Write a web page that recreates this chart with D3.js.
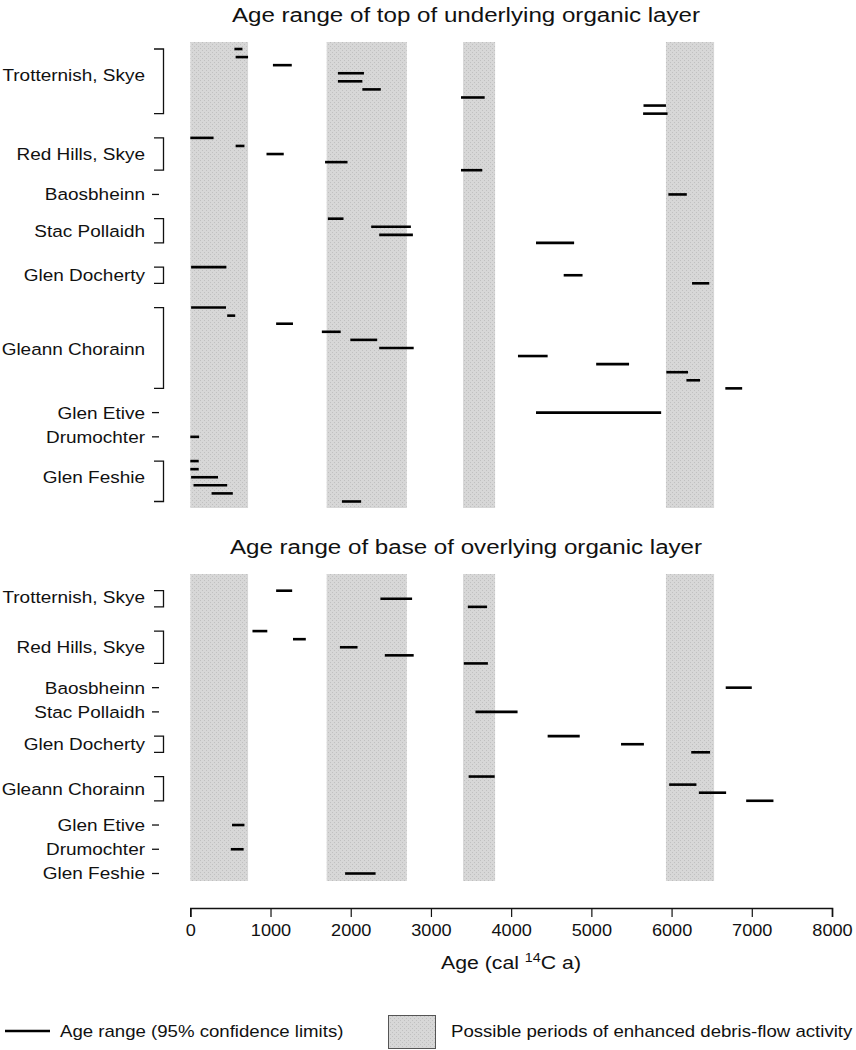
<!DOCTYPE html>
<html><head><meta charset="utf-8">
<script src="https://cdn.jsdelivr.net/npm/d3@7"></script>
<style>
body{margin:0;background:#fff}
text{font-family:"Liberation Sans",Arial,Helvetica,sans-serif;fill:#111}
</style>
</head><body>
<svg id="c" width="856" height="1050"></svg>
<script>
// ---------------- DATA ----------------
const sites = ["Trotternish, Skye", "Red Hills, Skye", "Baosbheinn", "Stac Pollaidh",
  "Glen Docherty", "Gleann Chorainn", "Glen Etive", "Drumochter", "Glen Feshie"];

// possible periods of enhanced debris-flow activity (cal 14C a)
const periods = [[0, 720], [1700, 2700], [3400, 3800], [5930, 6530]];

// age range of top of underlying organic layer: [site, from, to]
const topRanges = [
  ["Trotternish, Skye", 550, 650], ["Trotternish, Skye", 565, 720], ["Trotternish, Skye", 1030, 1265],
  ["Trotternish, Skye", 1840, 2165], ["Trotternish, Skye", 1840, 2145], ["Trotternish, Skye", 2145, 2375],
  ["Trotternish, Skye", 3375, 3670], ["Trotternish, Skye", 5650, 5930], ["Trotternish, Skye", 5645, 5950],
  ["Red Hills, Skye", 0, 290], ["Red Hills, Skye", 565, 675], ["Red Hills, Skye", 950, 1165],
  ["Red Hills, Skye", 1680, 1960], ["Red Hills, Skye", 3375, 3640],
  ["Baosbheinn", 5960, 6190],
  ["Stac Pollaidh", 1715, 1910], ["Stac Pollaidh", 2255, 2750], ["Stac Pollaidh", 2355, 2775], ["Stac Pollaidh", 4310, 4785],
  ["Glen Docherty", 10, 450], ["Glen Docherty", 4655, 4890], ["Glen Docherty", 6255, 6470],
  ["Gleann Chorainn", 10, 445], ["Gleann Chorainn", 460, 560], ["Gleann Chorainn", 1070, 1280],
  ["Gleann Chorainn", 1640, 1875], ["Gleann Chorainn", 1995, 2330], ["Gleann Chorainn", 2355, 2785],
  ["Gleann Chorainn", 4085, 4455], ["Gleann Chorainn", 5060, 5470], ["Gleann Chorainn", 5935, 6205],
  ["Gleann Chorainn", 6185, 6355], ["Gleann Chorainn", 6670, 6880],
  ["Glen Etive", 4310, 5870],
  ["Drumochter", 0, 110],
  ["Glen Feshie", 0, 105], ["Glen Feshie", 0, 105], ["Glen Feshie", 10, 345],
  ["Glen Feshie", 40, 460], ["Glen Feshie", 265, 530], ["Glen Feshie", 1890, 2130]
];

// age range of base of overlying organic layer: [site, from, to]
const baseRanges = [
  ["Trotternish, Skye", 1070, 1270], ["Trotternish, Skye", 2370, 2765], ["Trotternish, Skye", 3460, 3700],
  ["Red Hills, Skye", 775, 960], ["Red Hills, Skye", 1280, 1440], ["Red Hills, Skye", 1865, 2085],
  ["Red Hills, Skye", 2425, 2785], ["Red Hills, Skye", 3410, 3710],
  ["Baosbheinn", 6675, 7000],
  ["Stac Pollaidh", 3555, 4080],
  ["Glen Docherty", 4455, 4855], ["Glen Docherty", 5370, 5655], ["Glen Docherty", 6245, 6480],
  ["Gleann Chorainn", 3470, 3795], ["Gleann Chorainn", 5970, 6310], ["Gleann Chorainn", 6340, 6680],
  ["Gleann Chorainn", 6930, 7270],
  ["Glen Etive", 520, 675],
  ["Drumochter", 505, 665],
  ["Glen Feshie", 1930, 2310]
];

const xTicks = [0, 1000, 2000, 3000, 4000, 5000, 6000, 7000, 8000];
const titles = ["Age range of top of underlying organic layer", "Age range of base of overlying organic layer"];
const legendLabels = ["Age range (95% confidence limits)", "Possible periods of enhanced debris-flow activity"];

// ---------------- DRAWING ----------------
const SX = 1.15;            // horizontal stretch of the lettering
const ROW = 8.08;           // row pitch
const svg = d3.select("#c");
const x = d3.scaleLinear().domain([0, 8000]).range([190.3, 832]);

const defs = svg.append("defs");
const pat = defs.append("pattern").attr("id", "dots").attr("patternUnits", "userSpaceOnUse")
  .attr("width", 4).attr("height", 4);
pat.append("rect").attr("width", 4).attr("height", 4).attr("fill", "#d7d7d7");
pat.append("rect").attr("x", 0).attr("y", 0).attr("width", 1).attr("height", 1).attr("fill", "#c0c0c0");
pat.append("rect").attr("x", 2).attr("y", 2).attr("width", 1).attr("height", 1).attr("fill", "#c0c0c0");

function addText(g, tx, ty, str, anchor, size, sx) {
  return g.append("text")
    .attr("transform", `translate(${tx},${ty}) scale(${sx || SX},1)`)
    .attr("text-anchor", anchor).style("font-size", size + "px").text(str);
}

function layout(ranges) {
  const rows = [], groups = [];
  let r = 0;
  sites.forEach(s => {
    const items = ranges.filter(d => d[0] === s);
    if (!items.length) return;
    const first = r;
    items.forEach(d => { rows.push({site: s, from: d[1], to: d[2], row: r}); r++; });
    groups.push({site: s, first: first, last: r - 1});
    r += 2;
  });
  return {rows, groups};
}

const panels = [
  {ranges: topRanges, title: titles[0], titleY: 22, row0: 49, bandTop: 42, bandBottom: 508,
   nudge: {"Trotternish, Skye": -6, "Glen Feshie": -4.5, "Gleann Chorainn": 1}},
  {ranges: baseRanges, title: titles[1], titleY: 554, row0: 590.7, bandTop: 574, bandBottom: 881,
   nudge: {"Trotternish, Skye": -2}}
];

panels.forEach(p => {
  const g = svg.append("g");
  const {rows, groups} = layout(p.ranges);
  const y = d3.scaleLinear().domain([0, 1]).range([p.row0, p.row0 + ROW]);

  g.selectAll("rect.band").data(periods).enter().append("rect")
    .attr("class", "band")
    .attr("x", d => x(d[0])).attr("width", d => x(d[1]) - x(d[0]))
    .attr("y", p.bandTop).attr("height", p.bandBottom - p.bandTop)
    .attr("fill", "url(#dots)");

  g.selectAll("line.bar").data(rows).enter().append("line")
    .attr("class", "bar")
    .attr("x1", d => x(d.from)).attr("x2", d => x(d.to))
    .attr("y1", d => y(d.row)).attr("y2", d => y(d.row))
    .attr("stroke", "#000").attr("stroke-width", 2.6);

  groups.forEach(gr => {
    const y1 = y(gr.first), y2 = y(gr.last);
    if (gr.first === gr.last) {
      g.append("line").attr("x1", 152).attr("x2", 159).attr("y1", y1).attr("y2", y1)
        .attr("stroke", "#111").attr("stroke-width", 1.3);
    } else {
      g.append("path").attr("d", `M154,${y1}H163.5V${y2}H154`)
        .attr("fill", "none").attr("stroke", "#111").attr("stroke-width", 1.3);
    }
    const cy = (y1 + y2) / 2 + (p.nudge[gr.site] || 0);
    addText(g, 145, cy + 5.9, gr.site, "end", 16.5);
  });

  addText(g, 466, p.titleY, p.title, "middle", 21);
});

// axis
const ax = svg.append("g").attr("transform", "translate(0,908)")
  .call(d3.axisBottom(x).tickValues(xTicks).tickSize(9).tickSizeOuter(9).tickFormat(d3.format("d")));
ax.select(".domain").attr("stroke", "#111").attr("stroke-width", 1.6);
ax.selectAll(".tick line").attr("stroke", "#111").attr("stroke-width", 1.2);
ax.selectAll(".tick text").attr("y", 16.5).attr("transform", "scale(1.1,1)")
  .style("font-size", "16.5px").style("font-family", '"Liberation Sans",Arial,sans-serif').attr("fill", "#111");

const at = svg.append("text").attr("transform", `translate(511,969) scale(${SX},1)`)
  .attr("text-anchor", "middle").style("font-size", "18.5px");
at.append("tspan").text("Age (cal ");
at.append("tspan").text("14").style("font-size", "12.5px").attr("dy", -7.5);
at.append("tspan").text("C a)").attr("dy", 7.5);

// legend
const lg = svg.append("g");
lg.append("line").attr("x1", 5).attr("x2", 50).attr("y1", 1031).attr("y2", 1031)
  .attr("stroke", "#000").attr("stroke-width", 2.6);
addText(lg, 60, 1037, legendLabels[0], "start", 16.2);
lg.append("rect").attr("x", 388.5).attr("y", 1015.5).attr("width", 47).attr("height", 33)
  .attr("fill", "url(#dots)").attr("stroke", "#555").attr("stroke-width", 1);
addText(lg, 451, 1037, legendLabels[1], "start", 16.2);
</script>
</body></html>
